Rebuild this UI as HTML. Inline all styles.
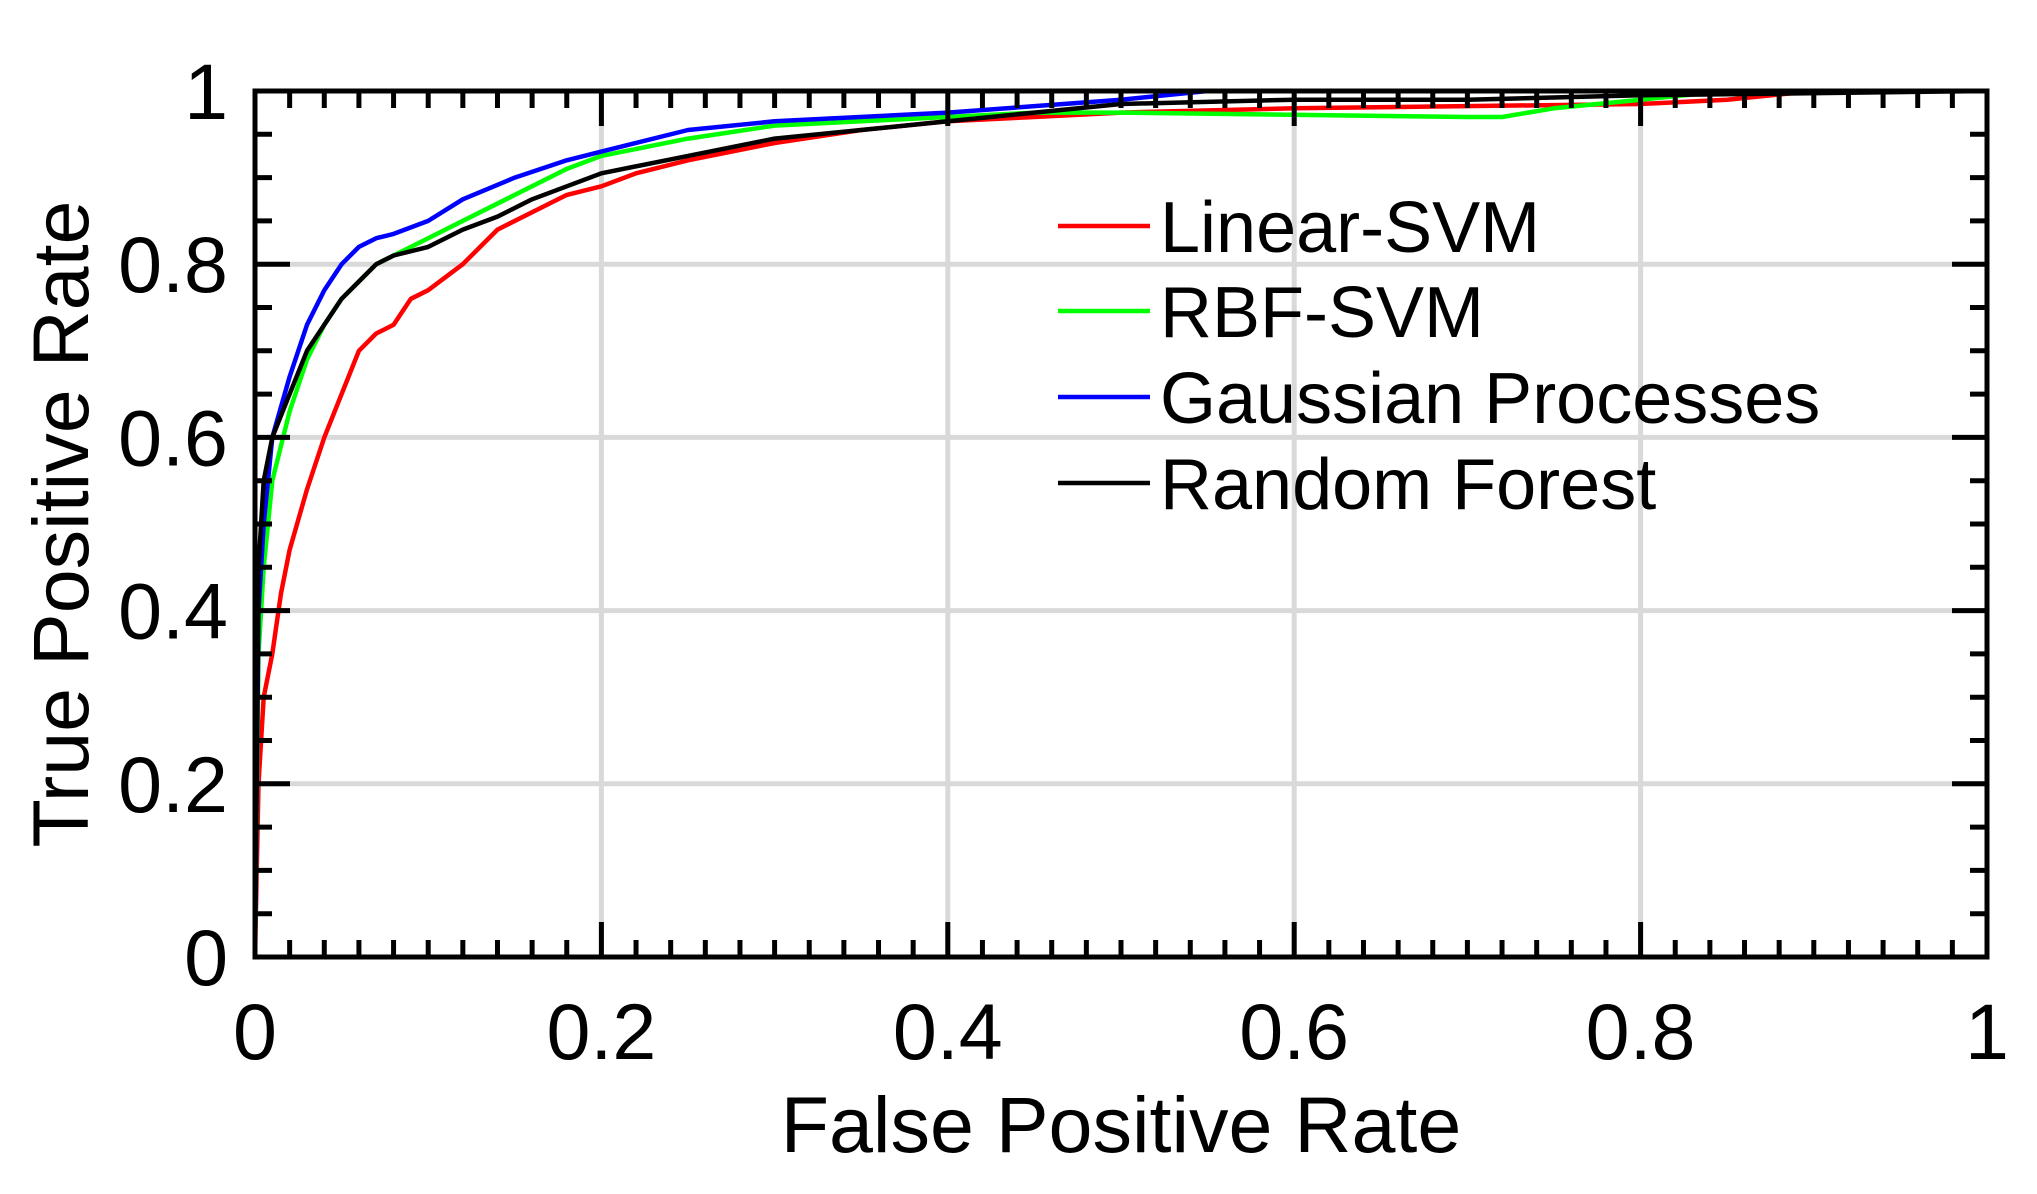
<!DOCTYPE html>
<html><head><meta charset="utf-8"><style>
html,body{margin:0;padding:0;background:#fff;}
svg{display:block;}
text{font-family:"Liberation Sans",Arial,sans-serif;fill:#000;}
</style></head><body>
<svg id="s" width="2037" height="1194" viewBox="0 0 2037 1194" xmlns="http://www.w3.org/2000/svg">
<g id="grid"></g>
<g id="curves" fill="none" stroke-width="4.5" stroke-linejoin="round"></g>
<g id="ticks" stroke="#000" stroke-width="5"></g>
<rect x="255" y="91" width="1732" height="866" fill="none" stroke="#000" stroke-width="5"/>
<g id="labels" font-size="79"></g>
<text x="1121" y="1152" font-size="79" text-anchor="middle">False Positive Rate</text>
<text transform="translate(88,524) rotate(-90)" font-size="79" text-anchor="middle">True Positive Rate</text>
<g font-size="72">
<line x1="1058" y1="226" x2="1150" y2="226" stroke="#ff0000" stroke-width="4.5"/>
<text x="1160" y="252">Linear-SVM</text>
<line x1="1058" y1="311" x2="1150" y2="311" stroke="#00ff00" stroke-width="4.5"/>
<text x="1160" y="337">RBF-SVM</text>
<line x1="1058" y1="397" x2="1150" y2="397" stroke="#0000ff" stroke-width="4.5"/>
<text x="1160" y="423">Gaussian Processes</text>
<line x1="1058" y1="483" x2="1150" y2="483" stroke="#000000" stroke-width="4.5"/>
<text x="1160" y="509">Random Forest</text>
</g>
</svg>
<script>
var L=255,R=1987,T=91,B=957,W=R-L,H=B-T;
function X(f){return L+f*W}function Y(t){return B-t*H}
var NS="http://www.w3.org/2000/svg";
function el(p,n,a){var e=document.createElementNS(NS,n);for(var k in a)e.setAttribute(k,a[k]);p.appendChild(e);return e}
var g=document.getElementById('grid'),tk=document.getElementById('ticks'),lb=document.getElementById('labels'),cv=document.getElementById('curves');
var labs=['0','0.2','0.4','0.6','0.8','1'];
for(var i=1;i<5;i++){var v=i*0.2;
el(g,'line',{x1:X(v),y1:T,x2:X(v),y2:B,stroke:'#d9d9d9','stroke-width':5});
el(g,'line',{x1:L,y1:Y(v),x2:R,y2:Y(v),stroke:'#d9d9d9','stroke-width':5});}
for(var i=0;i<=50;i++){var x=X(i/50),len=(i%10==0)?35:17;
el(tk,'line',{x1:x,y1:B,x2:x,y2:B-len});el(tk,'line',{x1:x,y1:T,x2:x,y2:T+len});}
for(var i=0;i<=20;i++){var y=Y(i/20),len=(i%4==0)?35:17;
el(tk,'line',{x1:L,y1:y,x2:L+len,y2:y});el(tk,'line',{x1:R,y1:y,x2:R-len,y2:y});}
for(var i=0;i<6;i++){
var t=el(lb,'text',{x:X(i*0.2),y:1059,'text-anchor':'middle'});t.textContent=labs[i];
var t2=el(lb,'text',{x:228,y:Y(i*0.2)+28,'text-anchor':'end'});t2.textContent=labs[i];}
var D={
'#000000':[[0,0],[0.002,0.45],[0.005,0.55],[0.01,0.6],[0.02,0.65],[0.03,0.7],[0.04,0.73],[0.05,0.76],[0.06,0.78],[0.07,0.8],[0.08,0.81],[0.1,0.82],[0.12,0.84],[0.14,0.855],[0.16,0.875],[0.18,0.89],[0.2,0.905],[0.25,0.925],[0.3,0.945],[0.35,0.955],[0.4,0.965],[0.45,0.975],[0.5,0.985],[0.6,0.99],[0.7,0.99],[0.8,0.995],[1,1]],
'#ff0000':[[0,0],[0.002,0.2],[0.005,0.3],[0.01,0.35],[0.015,0.42],[0.02,0.47],[0.03,0.54],[0.04,0.6],[0.05,0.65],[0.06,0.7],[0.07,0.72],[0.08,0.73],[0.09,0.76],[0.1,0.77],[0.12,0.8],[0.14,0.84],[0.16,0.86],[0.18,0.88],[0.2,0.89],[0.22,0.905],[0.25,0.92],[0.3,0.94],[0.35,0.955],[0.4,0.965],[0.45,0.97],[0.5,0.975],[0.6,0.98],[0.8,0.985],[0.85,0.99],[0.9,1],[1,1]],
'#00ff00':[[0,0],[0.002,0.35],[0.005,0.45],[0.01,0.55],[0.02,0.63],[0.03,0.69],[0.04,0.73],[0.05,0.76],[0.06,0.78],[0.07,0.8],[0.08,0.81],[0.1,0.83],[0.12,0.85],[0.15,0.88],[0.18,0.91],[0.2,0.925],[0.25,0.945],[0.3,0.96],[0.35,0.965],[0.4,0.97],[0.45,0.975],[0.5,0.975],[0.7,0.97],[0.72,0.97],[0.75,0.98],[0.8,0.99],[0.85,1],[1,1]],
'#0000ff':[[0,0],[0.002,0.4],[0.005,0.5],[0.01,0.6],[0.02,0.67],[0.03,0.73],[0.04,0.77],[0.05,0.8],[0.06,0.82],[0.07,0.83],[0.08,0.835],[0.1,0.85],[0.12,0.875],[0.15,0.9],[0.18,0.92],[0.2,0.93],[0.25,0.955],[0.3,0.965],[0.4,0.975],[0.5,0.99],[0.55,1],[1,1]]};
['#ff0000','#00ff00','#0000ff','#000000'].forEach(function(c){
var d=D[c].map(function(p,i){return (i?'L':'M')+X(p[0]).toFixed(1)+','+Y(p[1]).toFixed(1)}).join('');
el(cv,'path',{d:d,stroke:c});});
</script>
</body></html>
